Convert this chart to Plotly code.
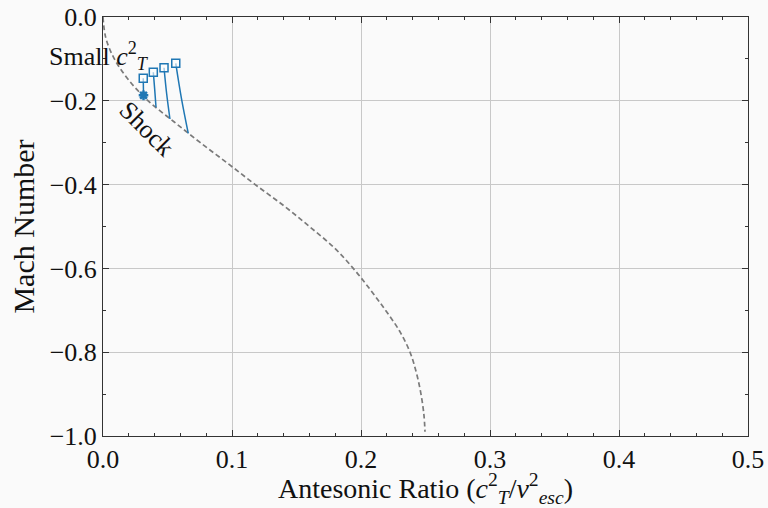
import plotly.graph_objects as go

# Shock curve (antesonic ratio vs Mach number)
shock_x = [0.0, 0.0022, 0.0088, 0.0198, 0.035, 0.055, 0.0755, 0.097, 0.118, 0.140,
           0.160, 0.179, 0.194, 0.207, 0.219, 0.230, 0.238, 0.243, 0.2465, 0.2488, 0.2496]
shock_y = [0.0, -0.05, -0.10, -0.15, -0.20, -0.25, -0.30, -0.35, -0.40, -0.45,
           -0.50, -0.55, -0.60, -0.65, -0.70, -0.75, -0.80, -0.85, -0.90, -0.95, -0.99]

# Small c_T^2 tracks: start (square) and end (on shock)
track_x = [[0.0312, 0.0313, 0.0314], [0.0390, 0.0401, 0.0411],
           [0.0473, 0.0493, 0.0519], [0.0564, 0.0608, 0.0661]]
track_y = [[-0.146, -0.166, -0.186], [-0.132, -0.174, -0.2155],
           [-0.121, -0.182, -0.2434], [-0.1105, -0.194, -0.2776]]
start_x = [0.0312, 0.0390, 0.0473, 0.0564]
start_y = [-0.146, -0.132, -0.121, -0.1105]
star_x = [0.0314]
star_y = [-0.187]

x_ticks = [0.0, 0.1, 0.2, 0.3, 0.4, 0.5]
y_ticks = [0.0, -0.2, -0.4, -0.6, -0.8, -1.0]

BLUE = "#1f77b4"
FONT = "Liberation Serif"
BG = "#fafafa"
TXT = "#111111"

fig = go.Figure()
fig.add_trace(go.Scatter(x=shock_x, y=shock_y, mode="lines",
                         line=dict(color="#7a7a7a", width=1.7, dash="5px,3px", shape="spline", smoothing=1.0),
                         showlegend=False, hoverinfo="skip"))
for tx, ty in zip(track_x, track_y):
    fig.add_trace(go.Scatter(x=tx, y=ty, mode="lines", line=dict(color=BLUE, width=1.5, shape="spline"),
                             showlegend=False))
fig.add_trace(go.Scatter(x=start_x, y=start_y, mode="markers",
                         marker=dict(symbol="square", size=8, color="rgba(255,255,255,0.6)",
                                     line=dict(color=BLUE, width=1.5)),
                         showlegend=False))
fig.add_trace(go.Scatter(x=star_x, y=star_y, mode="markers",
                         marker=dict(symbol="asterisk", size=8, color=BLUE,
                                     line=dict(color=BLUE, width=2.5)),
                         showlegend=False))

axis_common = dict(showline=True, linecolor="#333333", linewidth=1, mirror="allticks",
                   ticks="inside", ticklen=6, tickcolor="#333333", tickwidth=1,
                   showgrid=True, gridcolor="#c8c8c8", gridwidth=1, zeroline=False,
                   tickfont=dict(family=FONT, size=26, color=TXT),
                   tickformat=".1f")

fig.update_xaxes(range=[0, 0.5], tickvals=x_ticks,
                 minor=dict(dtick=0.02, ticks="inside", ticklen=3, tickcolor="#333333", showgrid=False),
                 title=dict(text="Antesonic Ratio (<i>c</i><sup>2</sup><sub><i>T</i></sub>/<i>v</i><sup>2</sup><sub><i>esc</i></sub>)",
                            font=dict(family=FONT, size=28, color=TXT), standoff=4),
                 **axis_common)
fig.update_yaxes(range=[-1, 0], tickvals=y_ticks,
                 minor=dict(dtick=0.1, ticks="inside", ticklen=3, tickcolor="#333333", showgrid=False),
                 title=dict(text="Mach Number", font=dict(family=FONT, size=30, color=TXT), standoff=6),
                 **axis_common)

fig.add_annotation(x=-0.0868, y=-0.092, xref="paper", yref="y", xanchor="left", yanchor="middle",
                   text="Small <i>c</i><sup>2</sup><sub><i>T</i></sub>", showarrow=False,
                   font=dict(family=FONT, size=26, color=TXT))
fig.add_annotation(x=0.0335, y=-0.267, xref="x", yref="y", xanchor="center", yanchor="middle",
                   text="Shock", showarrow=False, textangle=45,
                   font=dict(family=FONT, size=26, color=TXT))

fig.update_layout(width=768, height=508, margin=dict(l=103, r=20, t=17, b=72, autoexpand=False),
                  paper_bgcolor=BG, plot_bgcolor=BG)

fig.write_html("out.html")
